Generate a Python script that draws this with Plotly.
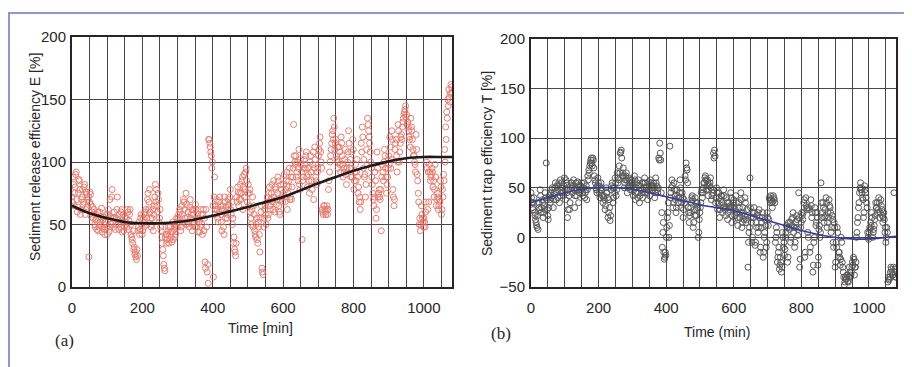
import plotly.graph_objects as go

# ---------------- data ----------------
# sampling times (min) for the measured points
time_a = list(range(0, 1081, 3))
time_b = [t + 1.5 for t in range(0, 1080, 3)]

# Panel (a): Sediment release efficiency E [%]
E_values_a = [
    72, 88, 65, 80, 92, 60, 75, 85, 58, 70, 78, 68, 82, 62, 74, 70, 24, 76, 66, 60,
    55, 62, 48, 58, 52, 45, 60, 50, 63, 47, 56, 42, 52, 48, 58, 44, 70, 50, 78, 55,
    60, 46, 55, 72, 50, 58, 48, 62, 52, 45, 56, 50, 48, 60, 53, 62, 42, 38, 45, 32,
    28, 22, 25, 48, 42, 55, 50, 45, 58, 52, 62, 55, 75, 68, 60, 48, 55, 45, 65, 82,
    78, 60, 70, 55, 48, 40, 30, 18, 13, 42, 38, 45, 35, 48, 40, 44, 38, 50, 42, 55,
    48, 58, 62, 45, 65, 52, 68, 55, 75, 50, 60, 48, 70, 58, 45, 62, 52, 66, 48, 58,
    55, 44, 62, 50, 58, 45, 20, 62, 12, 3, 118, 112, 105, 100, 8, 88, 62, 70, 55, 68,
    72, 58, 45, 65, 42, 68, 60, 55, 70, 62, 78, 58, 50, 35, 30, 25, 72, 80, 65, 75,
    70, 85, 62, 90, 78, 95, 68, 82, 75, 60, 50, 72, 65, 45, 40, 55, 35, 48, 28, 60,
    15, 10, 55, 65, 50, 72, 58, 80, 62, 75, 68, 85, 60, 78, 70, 88, 65, 58, 82, 72,
    75, 90, 68, 85, 62, 80, 95, 72, 70, 88, 130, 100, 105, 92, 85, 110, 78, 98, 38, 88,
    102, 95, 108, 80, 90, 75, 105, 85, 98, 70, 112, 88, 82, 95, 110, 120, 100, 62, 58, 65,
    60, 62, 58, 78, 92, 105, 115, 125, 135, 110, 118, 102, 95, 112, 98, 120, 105, 88, 92, 110,
    82, 100, 125, 95, 88, 108, 118, 78, 92, 85, 102, 75, 68, 62, 115, 128, 95, 88, 72, 110,
    135, 125, 115, 100, 88, 75, 65, 92, 55, 108, 72, 78, 70, 45, 98, 85, 110, 95, 75, 88,
    105, 120, 95, 125, 78, 65, 110, 118, 92, 130, 100, 115, 122, 128, 135, 140, 145, 138, 132, 125,
    118, 135, 125, 110, 105, 98, 122, 90, 75, 50, 45, 65, 55, 48, 52, 60, 100, 62, 68, 92,
    88, 95, 80, 72, 98, 65, 75, 62, 70, 85, 58, 78, 90, 110, 128, 140, 150, 158, 148, 162,
    155,
]
E_values_b = [
    68, 82, 75, 90, 70, 64, 86, 78, 62, 72, 66, 80, 58, 76, 64, 72, 68, 74, 56, 64,
    58, 50, 54, 46, 60, 48, 52, 56, 44, 54, 50, 46, 58, 42, 62, 48, 56, 72, 52, 48,
    56, 50, 62, 54, 46, 52, 60, 44, 58, 48, 52, 55, 62, 46, 58, 50, 40, 35, 30, 26,
    24, 30, 45, 52, 46, 58, 42, 55, 48, 60, 50, 70, 62, 78, 55, 50, 62, 58, 72, 68,
    65, 75, 52, 62, 45, 35, 25, 15, 40, 35, 42, 48, 38, 44, 36, 52, 46, 40, 48, 52,
    55, 52, 60, 48, 58, 70, 62, 50, 66, 56, 52, 64, 55, 62, 50, 58, 48, 62, 54, 44,
    52, 48, 58, 42, 62, 55, 15, 48, 18, 118, 115, 108, 95, 65, 72, 58, 65, 62, 52, 60,
    65, 52, 62, 48, 72, 55, 64, 58, 66, 72, 62, 68, 55, 40, 28, 35, 68, 76, 70, 82,
    75, 88, 80, 72, 92, 85, 75, 65, 78, 55, 62, 48, 58, 42, 50, 38, 52, 42, 55, 65,
    12, 48, 62, 58, 68, 55, 75, 65, 70, 82, 62, 72, 80, 66, 75, 85, 60, 70, 78, 68,
    82, 72, 78, 92, 75, 85, 70, 88, 80, 95, 105, 98, 88, 100, 95, 82, 102, 92, 85, 95,
    98, 105, 88, 95, 85, 100, 92, 78, 108, 95, 102, 85, 92, 105, 115, 108, 95, 60, 65, 62,
    58, 65, 62, 85, 100, 110, 122, 118, 128, 115, 105, 112, 100, 108, 92, 115, 98, 95, 102, 90,
    95, 108, 115, 102, 95, 88, 110, 85, 98, 92, 88, 80, 72, 68, 108, 120, 102, 90, 82, 98,
    130, 120, 108, 95, 82, 70, 72, 85, 62, 95, 75, 72, 78, 88, 92, 100, 105, 88, 82, 95,
    98, 112, 102, 118, 72, 70, 115, 105, 100, 125, 108, 120, 118, 132, 138, 142, 136, 130, 128, 120,
    112, 128, 118, 105, 100, 92, 110, 85, 68, 55, 50, 58, 52, 55, 48, 68, 95, 92, 98, 85,
    90, 92, 85, 78, 88, 70, 72, 65, 68, 80, 62, 72, 85, 100, 118, 135, 145, 152, 155, 160,
]

# Panel (b): Sediment trap efficiency T [%]
T_values_a = [
    45, 35, 28, 40, 22, 15, 10, 8, 30, 48, 25, 38, 20, 32, 45, 75, 28, 18, 42, 35,
    40, 50, 30, 45, 55, 38, 48, 52, 35, 58, 45, 50, 42, 60, 38, 55, 20, 48, 28, 52,
    55, 45, 58, 30, 50, 42, 56, 35, 48, 52, 55, 45, 50, 40, 48, 38, 62, 68, 72, 78,
    75, 80, 70, 58, 50, 45, 60, 52, 40, 55, 48, 35, 42, 28, 50, 45, 20, 38, 17, 48,
    55, 35, 50, 60, 42, 65, 55, 72, 85, 88, 62, 70, 50, 58, 65, 45, 60, 52, 48, 58,
    55, 42, 62, 38, 50, 45, 58, 35, 52, 48, 40, 55, 60, 45, 50, 38, 56, 42, 58, 52,
    48, 55, 40, 60, 52, 45, 80, 95, 78, 25, 5, -15, -20, -18, 10, 25, 0, 92, 45, 58,
    30, 55, 42, 25, 48, 35, 40, 58, 30, 45, 20, 38, 62, 75, 68, 30, 15, 25, 35, 42,
    10, 28, 40, 22, 35, 0, 18, 30, 45, 40, 50, 55, 62, 48, 58, 42, 52, 60, 38, 45,
    85, 88, 35, 50, 28, 45, 20, 38, 42, 25, 48, 32, 22, 40, 18, 35, 28, 45, 15, 30,
    38, 22, 42, 25, 12, 35, 20, 45, 10, 30, 18, 40, 15, 28, -30, 5, 60, 20, -5, 25,
    30, -8, 15, 22, 5, 28, -15, 10, 20, -20, 0, 18, -10, 25, 12, 40, 35, 38, 30, 42,
    38, -5, 10, -25, -15, -32, -20, -35, 5, -10, -18, 0, 12, -25, 15, 8, -5, 18, 20, 5,
    -10, 15, 22, 2, 45, -30, 10, 25, 18, 35, -20, 40, 28, 5, 30, -15, 38, 20, -35, -5,
    30, 12, 25, -28, 8, 0, 55, 20, 35, 15, 28, 40, 10, 25, 38, 30, 5, 22, -5, 15,
    -30, -5, 10, -20, -15, -28, 0, -25, -35, -48, -40, -42, -38, -45, -30, -40, -35, -25, -20, -38,
    -30, 0, 15, 30, 45, 55, 50, 40, 20, 52, 45, 35, 5, -2, 10, 15, 25, 0, 8, 18,
    35, 30, 25, 40, 20, 38, 28, 15, 25, 5, -5, 10, -45, -43, -40, -30, -35, -38, 45, -32,
    -40,
]
T_values_b = [
    40, 30, 35, 25, 18, 12, 22, 35, 28, 42, 30, 35, 25, 28, 40, 38, 22, 30, 38, 45,
    48, 42, 38, 50, 45, 52, 40, 55, 42, 50, 55, 45, 52, 48, 58, 45, 28, 42, 35, 55,
    50, 52, 48, 42, 55, 48, 52, 45, 52, 48, 50, 42, 55, 45, 52, 48, 58, 65, 75, 80,
    72, 78, 62, 55, 48, 52, 55, 45, 48, 50, 42, 40, 38, 32, 45, 40, 25, 30, 22, 52,
    50, 40, 45, 55, 48, 60, 58, 65, 86, 80, 65, 62, 55, 62, 58, 50, 55, 58, 52, 55,
    52, 48, 58, 45, 55, 40, 52, 42, 48, 55, 45, 50, 55, 50, 45, 48, 52, 48, 55, 50,
    52, 50, 45, 55, 48, 50, 78, 85, 45, -10, 15, -22, -15, 0, 20, 35, 12, 40, 50, 52,
    35, 48, 38, 30, 42, 40, 45, 50, 35, 40, 28, 35, 58, 70, 55, 25, 22, 30, 40, 38,
    15, 22, 35, 28, 30, 5, 25, 35, 48, 45, 55, 60, 58, 52, 55, 48, 55, 50, 42, 48,
    80, 82, 40, 45, 35, 40, 28, 42, 35, 30, 42, 28, 30, 35, 25, 30, 32, 40, 22, 35,
    32, 28, 35, 20, 18, 30, 25, 38, 15, 25, 22, 35, 18, 22, -5, 10, 30, 15, 0, 20,
    25, -5, 10, 25, 10, 20, -10, 15, 25, -15, 5, 12, -5, 20, 18, 38, 42, 35, 36, 40,
    35, 0, 5, -20, -10, -28, -25, -30, 0, -5, -12, 5, 10, -20, 10, 15, 0, 12, 25, 10,
    -5, 10, 18, 8, 20, -22, 15, 22, 25, 38, -15, 32, 30, 0, 28, -10, 32, 25, -28, 0,
    25, 15, 20, -20, 12, 5, 35, 25, 30, 20, 22, 35, 15, 20, 32, 25, 10, 18, -10, 10,
    -25, -10, 5, -15, -20, -22, -5, -30, -40, -45, -42, -38, -44, -40, -35, -38, -30, -28, -22, -30,
    -25, 5, 20, 35, 50, 48, 45, 38, 25, 48, 40, 30, 0, 5, 8, 12, 20, 5, 12, 22,
    30, 35, 28, 35, 25, 32, 22, 20, 18, 10, 0, 5, -40, -42, -35, -32, -38, -30, -35, -40,
]

# fitted trend curves
fit_time = [0, 50, 100, 150, 200, 250, 300, 350, 400, 450, 500, 550, 600,
            650, 700, 750, 800, 850, 900, 950, 1000, 1050, 1080]
E_fit = [65, 59, 55, 52, 51, 51, 52, 54, 57, 60.5, 64, 68, 72,
         77.5, 83, 88, 93, 97, 100.5, 103, 104, 104, 104]
T_fit = [35, 40, 45, 48.5, 50, 50, 48.5, 45, 41, 37, 33, 30, 27,
         22, 17, 12, 7, 3, 0, -1.5, -1.5, 0, 1]

x_ticks = [0, 200, 400, 600, 800, 1000]

# ---------------- figure ----------------
OFF = 8                 # default page margin of the html body
W, H = 912 - OFF, 367 - OFF
FONT = "Liberation Sans, Arial, Helvetica, sans-serif"
SERIF = "Liberation Serif, Times New Roman, serif"
GRID = "#4d434d"
TXT = "#262626"


def px_x(p):
    return (p - OFF) / W


def px_y(p):
    return 1 - (p - OFF) / H


fig = go.Figure()

fig.add_trace(go.Scatter(
    x=time_a + time_b, y=E_values_a + E_values_b, mode="markers", xaxis="x", yaxis="y",
    marker=dict(symbol="circle-open", size=6, color="#e3685a",
                line=dict(width=1, color="#e3685a")),
    opacity=0.85, showlegend=False))
fig.add_trace(go.Scatter(
    x=fit_time, y=E_fit, mode="lines", xaxis="x", yaxis="y",
    line=dict(color="#1e1a1c", width=2.6, shape="spline"), showlegend=False))

fig.add_trace(go.Scatter(
    x=time_a + time_b, y=T_values_a + T_values_b, mode="markers", xaxis="x2", yaxis="y2",
    marker=dict(symbol="circle-open", size=6, color="#3d3d3d",
                line=dict(width=1, color="#3d3d3d")),
    opacity=0.85, showlegend=False))
fig.add_trace(go.Scatter(
    x=fit_time, y=T_fit, mode="lines", xaxis="x2", yaxis="y2",
    line=dict(color="#3a3a9a", width=1.6, shape="spline"), showlegend=False))

xax_common = dict(
    range=[0, 1080], tickvals=x_ticks, showgrid=True, gridcolor=GRID, gridwidth=1,
    minor=dict(dtick=50, tick0=0, showgrid=True, gridcolor=GRID, gridwidth=1),
    showline=True, linecolor="#2a2226", linewidth=2, mirror=True,
    ticks="outside", ticklen=6, tickcolor="rgba(0,0,0,0)",
    tickfont=dict(family=FONT, size=15, color=TXT), zeroline=False,
    fixedrange=True, automargin=False,
)
yax_common = dict(
    dtick=50, showgrid=True, gridcolor=GRID, gridwidth=1,
    showline=True, linecolor="#2a2226", linewidth=2, mirror=True,
    ticks="outside", ticklen=1, tickcolor="rgba(0,0,0,0)",
    tickfont=dict(family=FONT, size=15, color=TXT), zeroline=False,
    fixedrange=True, automargin=False,
)

fig.update_layout(
    width=W, height=H,
    margin=dict(l=0, r=0, t=0, b=0),
    paper_bgcolor="#ffffff", plot_bgcolor="#ffffff",
    xaxis=dict(domain=[px_x(72), px_x(452)], anchor="y", **xax_common),
    yaxis=dict(domain=[px_y(287), px_y(37)], anchor="x", range=[0, 200], **yax_common),
    xaxis2=dict(domain=[px_x(531), px_x(896)], anchor="y2", **xax_common),
    yaxis2=dict(domain=[px_y(287), px_y(39)], anchor="x2", range=[-50, 200], **yax_common),
)

annots = [
    dict(text="Time [min]", x=260, y=328, size=14, family=FONT, angle=0),
    dict(text="Time (min)", x=717, y=332, size=14, family=FONT, angle=0),
    dict(text="Sediment release efficiency E [%]", x=35, y=157, size=14, family=FONT, angle=-90),
    dict(text="Sediment trap efficiency T [%]", x=487, y=164, size=14, family=FONT, angle=-90),
    dict(text="(a)", x=64, y=340, size=17, family=SERIF, angle=0),
    dict(text="(b)", x=501, y=333, size=17, family=SERIF, angle=0),
]
for a in annots:
    fig.add_annotation(text=a["text"], x=px_x(a["x"]), y=px_y(a["y"]), xref="paper", yref="paper",
                       showarrow=False, textangle=a["angle"], xanchor="center", yanchor="middle",
                       font=dict(family=a["family"], size=a["size"], color=TXT))

# outer frame of the figure
fig.add_shape(type="rect", xref="paper", yref="paper",
              x0=px_x(9), x1=px_x(906), y0=px_y(380), y1=px_y(13),
              line=dict(color="#8c98cf", width=2), layer="below")

fig.write_html("out.html")
